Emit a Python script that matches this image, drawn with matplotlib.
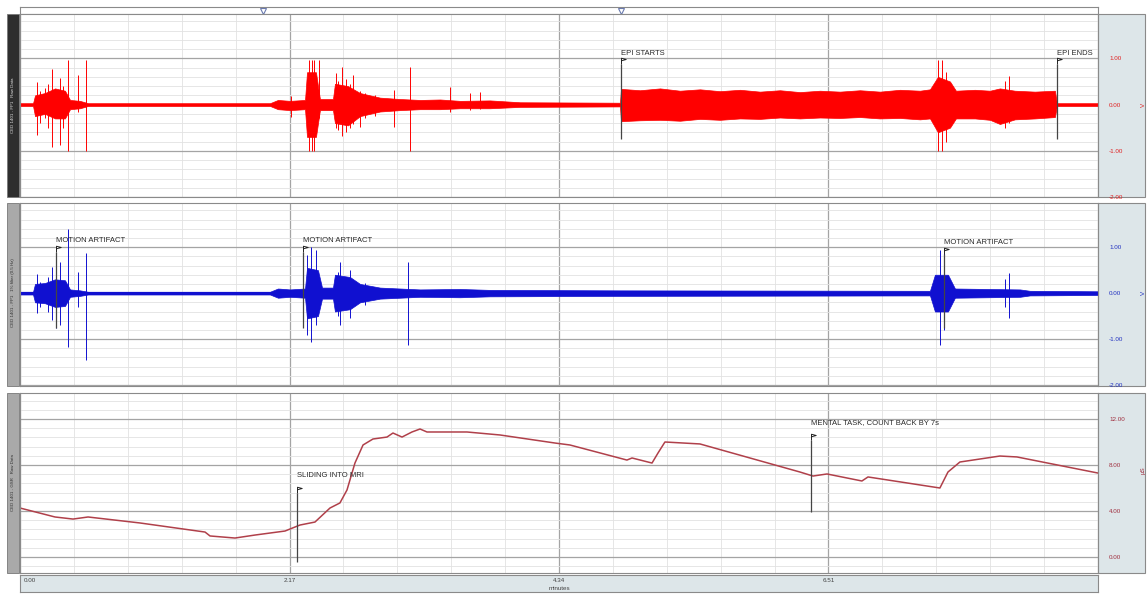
import numpy as np
import matplotlib
matplotlib.use("Agg")
import matplotlib.pyplot as plt
from matplotlib.patches import Rectangle
from matplotlib.path import Path
from matplotlib.ticker import MultipleLocator

plt.rcParams['font.family'] = ['Liberation Sans', 'DejaVu Sans']

W, H = 1147, 598

# ---- channel 1: raw EEG (red), amplitude envelope + spikes, time in minutes
red_env_t = [0.000, 0.105, 0.121, 0.201, 0.282, 0.362, 0.403, 0.483, 0.548, 2.013, 2.077,
             2.174, 2.295, 2.311, 2.383, 2.415, 2.520, 2.536, 2.641, 2.738, 2.899, 3.060,
             3.221, 3.382, 3.543, 3.784, 4.026, 4.831,
             4.839, 4.992, 5.153, 5.314, 5.475, 5.636, 5.797, 5.958, 6.119, 6.280, 6.441,
             6.602, 6.763, 6.924, 7.085, 7.246, 7.327, 7.391, 7.488, 7.536, 7.689, 7.810,
             7.890, 8.011, 8.172, 8.333, 8.349, 8.680]
red_env_hi = [0.03, 0.03, 0.20, 0.25, 0.35, 0.30, 0.10, 0.08, 0.03, 0.03, 0.10,
              0.08, 0.10, 0.70, 0.70, 0.12, 0.12, 0.45, 0.40, 0.25, 0.15, 0.12,
              0.10, 0.11, 0.08, 0.09, 0.05, 0.04,
              0.34, 0.31, 0.35, 0.30, 0.33, 0.29, 0.32, 0.28, 0.31, 0.27, 0.30,
              0.28, 0.31, 0.28, 0.32, 0.30, 0.33, 0.60, 0.50, 0.30, 0.32, 0.30,
              0.35, 0.30, 0.28, 0.30, 0.03, 0.03]
red_env_lo = [-0.03, -0.03, -0.25, -0.20, -0.30, -0.30, -0.10, -0.08, -0.03, -0.03, -0.10,
              -0.12, -0.10, -0.70, -0.70, -0.12, -0.12, -0.40, -0.45, -0.25, -0.15, -0.12,
              -0.10, -0.10, -0.08, -0.08, -0.05, -0.04,
              -0.36, -0.34, -0.33, -0.35, -0.31, -0.33, -0.30, -0.31, -0.28, -0.30, -0.28,
              -0.29, -0.27, -0.30, -0.29, -0.32, -0.30, -0.60, -0.50, -0.30, -0.30, -0.33,
              -0.42, -0.32, -0.30, -0.27, -0.03, -0.03]
red_spike_t = [0.137, 0.161, 0.201, 0.225, 0.258, 0.322, 0.346, 0.386, 0.467, 0.531, 2.182,
               2.327, 2.351, 2.367, 2.407, 2.544, 2.560, 2.593, 2.625, 2.657, 2.681, 2.738,
               2.778, 2.858, 3.011, 3.140, 3.462, 3.623, 3.704, 7.391, 7.423, 7.456, 7.931,
               7.963]
red_spike_hi = [0.49, 0.30, 0.35, 0.45, 0.77, 0.58, 0.40, 0.97, 0.64, 0.97, 0.18,
                0.97, 0.97, 0.97, 0.97, 0.68, 0.50, 0.82, 0.55, 0.45, 0.64, 0.30,
                0.25, 0.20, 0.32, 0.82, 0.39, 0.25, 0.28, 0.97, 0.97, 0.70, 0.50,
                0.62]
red_spike_lo = [-0.65, -0.40, -0.30, -0.50, -0.92, -0.88, -0.50, -1.00, -0.15, -1.00, -0.27,
                -1.00, -1.00, -1.00, -0.30, -0.50, -0.55, -0.68, -0.60, -0.50, -0.42, -0.49,
                -0.30, -0.25, -0.49, -1.00, -0.15, -0.12, -0.10, -1.00, -1.00, -0.80, -0.50,
                -0.40]

# ---- channel 2: filtered EEG (blue)
blue_env_t = [0.000, 0.105, 0.121, 0.201, 0.282, 0.362, 0.403, 0.483, 0.548, 2.013, 2.077,
              2.174, 2.295, 2.311, 2.399, 2.432, 2.520, 2.536, 2.657, 2.738, 2.899, 3.221,
              3.543, 3.784, 4.831, 7.327, 7.367, 7.472, 7.528, 8.052, 8.132, 8.680]
blue_env_hi = [0.03, 0.03, 0.20, 0.22, 0.30, 0.28, 0.08, 0.06, 0.03, 0.03, 0.10,
               0.08, 0.10, 0.55, 0.50, 0.12, 0.12, 0.40, 0.35, 0.20, 0.12, 0.08,
               0.09, 0.07, 0.06, 0.05, 0.40, 0.40, 0.10, 0.08, 0.05, 0.04]
blue_spike_t = [0.137, 0.161, 0.225, 0.258, 0.290, 0.322, 0.386, 0.467, 0.531, 2.311, 2.343,
                2.383, 2.560, 2.576, 2.657, 2.778, 3.124, 7.407, 7.440, 7.931, 7.963]
blue_spike_hi = [0.41, 0.25, 0.35, 0.57, 0.76, 0.67, 1.39, 0.46, 0.87, 0.82, 1.00,
                 0.93, 0.45, 0.67, 0.50, 0.22, 0.67, 0.93, 0.87, 0.30, 0.43]
blue_spike_lo = [-0.43, -0.30, -0.40, -0.59, -0.76, -0.70, -1.17, -0.30, -1.46, -0.90, -1.07,
                 -0.70, -0.50, -0.70, -0.55, -0.25, -1.13, -1.13, -0.80, -0.30, -0.54]

# ---- channel 3: skin conductance trace
gsr_t = [0.000, 0.282, 0.427, 0.548, 0.966, 1.490, 1.530, 1.731, 1.892, 2.134, 2.254,
         2.375, 2.496, 2.576, 2.633, 2.697, 2.762, 2.842, 2.955, 3.003, 3.076, 3.156,
         3.221, 3.277, 3.599, 3.865, 4.308, 4.428, 4.887, 4.928, 5.089, 5.137, 5.193,
         5.475, 6.280, 6.385, 6.498, 6.779, 6.828, 7.407, 7.472, 7.568, 7.890, 8.027,
         8.680]
gsr_v = [4.26, 3.48, 3.30, 3.48, 2.96, 2.17, 1.83, 1.65, 1.91, 2.26, 2.78,
         3.04, 4.26, 4.70, 5.83, 8.17, 9.74, 10.26, 10.43, 10.78, 10.43, 10.87,
         11.13, 10.87, 10.87, 10.61, 9.91, 9.74, 8.43, 8.61, 8.17, 9.04, 10.00,
         9.83, 7.39, 7.04, 7.22, 6.61, 6.96, 6.00, 7.39, 8.26, 8.78, 8.70,
         7.30]

# event markers: (time, label, line top, line bottom)
top_events = [(4.839, "EPI STARTS", 0.88, -0.75), (8.349, "EPI ENDS", 0.88, -0.75)]
mid_events = [(0.290, "MOTION ARTIFACT", 0.89, -0.75), (2.280, "MOTION ARTIFACT", 0.89, -0.75),
              (7.440, "MOTION ARTIFACT", 0.85, -0.75)]
bot_events = [(2.230, "SLIDING INTO MRI", 5.57, -0.43), (6.370, "MENTAL TASK, COUNT BACK BY 7s", 10.17, 3.91)]

xticks = [0.00, 2.17, 4.34, 6.51]
t_end = 8.68

# small pennant drawn on top of each event line
FLAG = Path([(0, 0), (0, 1), (0.75, 0.8), (0, 0.6)],
            [Path.MOVETO, Path.LINETO, Path.LINETO, Path.LINETO])


def px(x0, y0, x1, y1):
    return [x0 / W, 1 - y1 / H, (x1 - x0) / W, (y1 - y0) / H]


fig = plt.figure(figsize=(W / 100, H / 100), dpi=100)
fig.patch.set_facecolor('white')


def frame(ax, ylim, major, minor):
    ax.set_xlim(0, t_end)
    ax.set_ylim(*ylim)
    ax.xaxis.set_major_locator(MultipleLocator(2.17))
    ax.xaxis.set_minor_locator(MultipleLocator(0.434))
    ax.yaxis.set_major_locator(MultipleLocator(major))
    ax.yaxis.set_minor_locator(MultipleLocator(minor))
    ax.grid(which='major', color='#a4a4a4', lw=0.9)
    ax.grid(which='minor', color='#e2e2e2', lw=0.6)
    ax.set_axisbelow(True)
    ax.tick_params(axis='x', which='both', length=0, labelbottom=False)
    ax.yaxis.tick_right()
    for s in ax.spines.values():
        s.set_color('#8a8a8a')
        s.set_linewidth(0.8)


def marker(ax, t, label, ytop, ybot, label_dy):
    ax.vlines(t, ybot, ytop, color='#444444', lw=0.9, zorder=5)
    ax.plot([t], [ytop], marker=FLAG, ms=9, mfc='white', mec='#222222', mew=0.7,
            linestyle='none', zorder=6)
    ax.text(t, ytop + label_dy, label, fontsize=5.5, color='#2a2a2a', ha='left',
            va='bottom', zorder=6)


# right-hand scale panels and left channel tabs (kept behind the axes so tick labels show)
for (y0, y1), tab in [((14, 197), '#2e2e2e'), ((203, 386), '#a9a9a9'), ((393, 573), '#a9a9a9')]:
    fig.patches.append(Rectangle((1098 / W, 1 - y1 / H), 47 / W, (y1 - y0) / H,
                                 transform=fig.transFigure, facecolor='#dde6e9',
                                 edgecolor='#8a8a8a', lw=0.8, zorder=-5))
    fig.patches.append(Rectangle((7 / W, 1 - y1 / H), 12 / W, (y1 - y0) / H,
                                 transform=fig.transFigure, facecolor=tab,
                                 edgecolor='#777777', lw=0.6, zorder=-5))

# header strip above first panel
hdr = fig.add_axes(px(20, 7, 1098, 14))
hdr.set_xlim(0, t_end)
hdr.set_ylim(0, 1)
hdr.set_xticks([])
hdr.set_yticks([])
for s in hdr.spines.values():
    s.set_color('#8a8a8a')
    s.set_linewidth(0.8)
hdr.plot([1.957, 4.839], [0.5, 0.5], linestyle='none', marker='v', ms=4,
         mfc='none', mec='#6a7ab0', mew=0.8)

# ---- top panel
ax1 = fig.add_axes(px(20, 14, 1098, 197))
frame(ax1, (-1.98, 1.96), 1.0, 0.2)
ax1.set_yticks([-2, -1, 0, 1])
ax1.set_yticklabels(['-2.00', '-1.00', '0.00', '1.00'])
ax1.tick_params(axis='y', which='both', length=0, pad=8, labelsize=4.5, labelcolor='#e02020')
ax1.fill_between(red_env_t, red_env_lo, red_env_hi, color='#ff0000', lw=0.5)
ax1.plot([0, t_end], [0, 0], color='#ff0000', lw=1.4)
ax1.vlines(red_spike_t, red_spike_lo, red_spike_hi, color='#ff0000', lw=0.7)
for t, lab, yt, yb in top_events:
    marker(ax1, t, lab, yt, yb, 0.16)

# ---- middle panel
ax2 = fig.add_axes(px(20, 203, 1098, 386))
frame(ax2, (-2.02, 1.96), 1.0, 0.2)
ax2.set_yticks([-2, -1, 0, 1])
ax2.set_yticklabels(['-2.00', '-1.00', '0.00', '1.00'])
ax2.tick_params(axis='y', which='both', length=0, pad=8, labelsize=4.5, labelcolor='#2030c0')
ax2.fill_between(blue_env_t, [-a for a in blue_env_hi], blue_env_hi, color='#1010d0', lw=0.5)
ax2.plot([0, t_end], [0, 0], color='#1010d0', lw=1.4)
ax2.vlines(blue_spike_t, blue_spike_lo, blue_spike_hi, color='#1010d0', lw=0.7)
for t, lab, yt, yb in mid_events:
    marker(ax2, t, lab, yt, yb, 0.18)

# ---- bottom panel
ax3 = fig.add_axes(px(20, 393, 1098, 573))
frame(ax3, (-1.39, 14.26), 4.0, 0.8)
ax3.set_yticks([0, 4, 8, 12])
ax3.set_yticklabels(['0.00', '4.00', '8.00', '12.00'])
ax3.tick_params(axis='y', which='both', length=0, pad=8, labelsize=4.5, labelcolor='#a03040')
ax3.plot(gsr_t, gsr_v, color='#b0404a', lw=1.1)
for t, lab, yt, yb in bot_events:
    marker(ax3, t, lab, yt, yb, 1.25)

# time axis strip
axx = fig.add_axes(px(20, 575, 1098, 592))
axx.set_facecolor('#dde6e9')
axx.set_xlim(0, t_end)
axx.set_ylim(0, 1)
axx.set_xticks([])
axx.set_yticks([])
for s in axx.spines.values():
    s.set_color('#8a8a8a')
    s.set_linewidth(0.8)
for i, t in enumerate(xticks):
    axx.text(t + (0.03 if i == 0 else 0), 0.7, f"{t:.2f}", fontsize=4.5, color='#444444',
             ha='left' if i == 0 else 'center', va='center')
axx.text(4.34, 0.2, "minutes", fontsize=4.5, color='#444444', ha='center', va='center')

# channel titles on the left tabs and units on the right
chan_names = ["CED 1401 - FP1   Raw Data", "CED 1401 - FP1   1% filter (0.5 Hz)",
              "CED 1401 - GSR   Raw Data"]
for (yc, name, fg) in [(105, chan_names[0], '#dddddd'), (293, chan_names[1], '#333333'),
                       (483, chan_names[2], '#333333')]:
    fig.text(13 / W, 1 - yc / H, name, rotation=90, fontsize=3.2, color=fg,
             ha='center', va='center')
for (yc, unit, col) in [(105, "V", '#e02020'), (293, "V", '#2030c0'), (470, "\u00b5S", '#a03040')]:
    fig.text(1143 / W, 1 - yc / H, unit, rotation=90, fontsize=4.5, color=col,
             ha='center', va='center')

fig.savefig("out.png", dpi=100)
